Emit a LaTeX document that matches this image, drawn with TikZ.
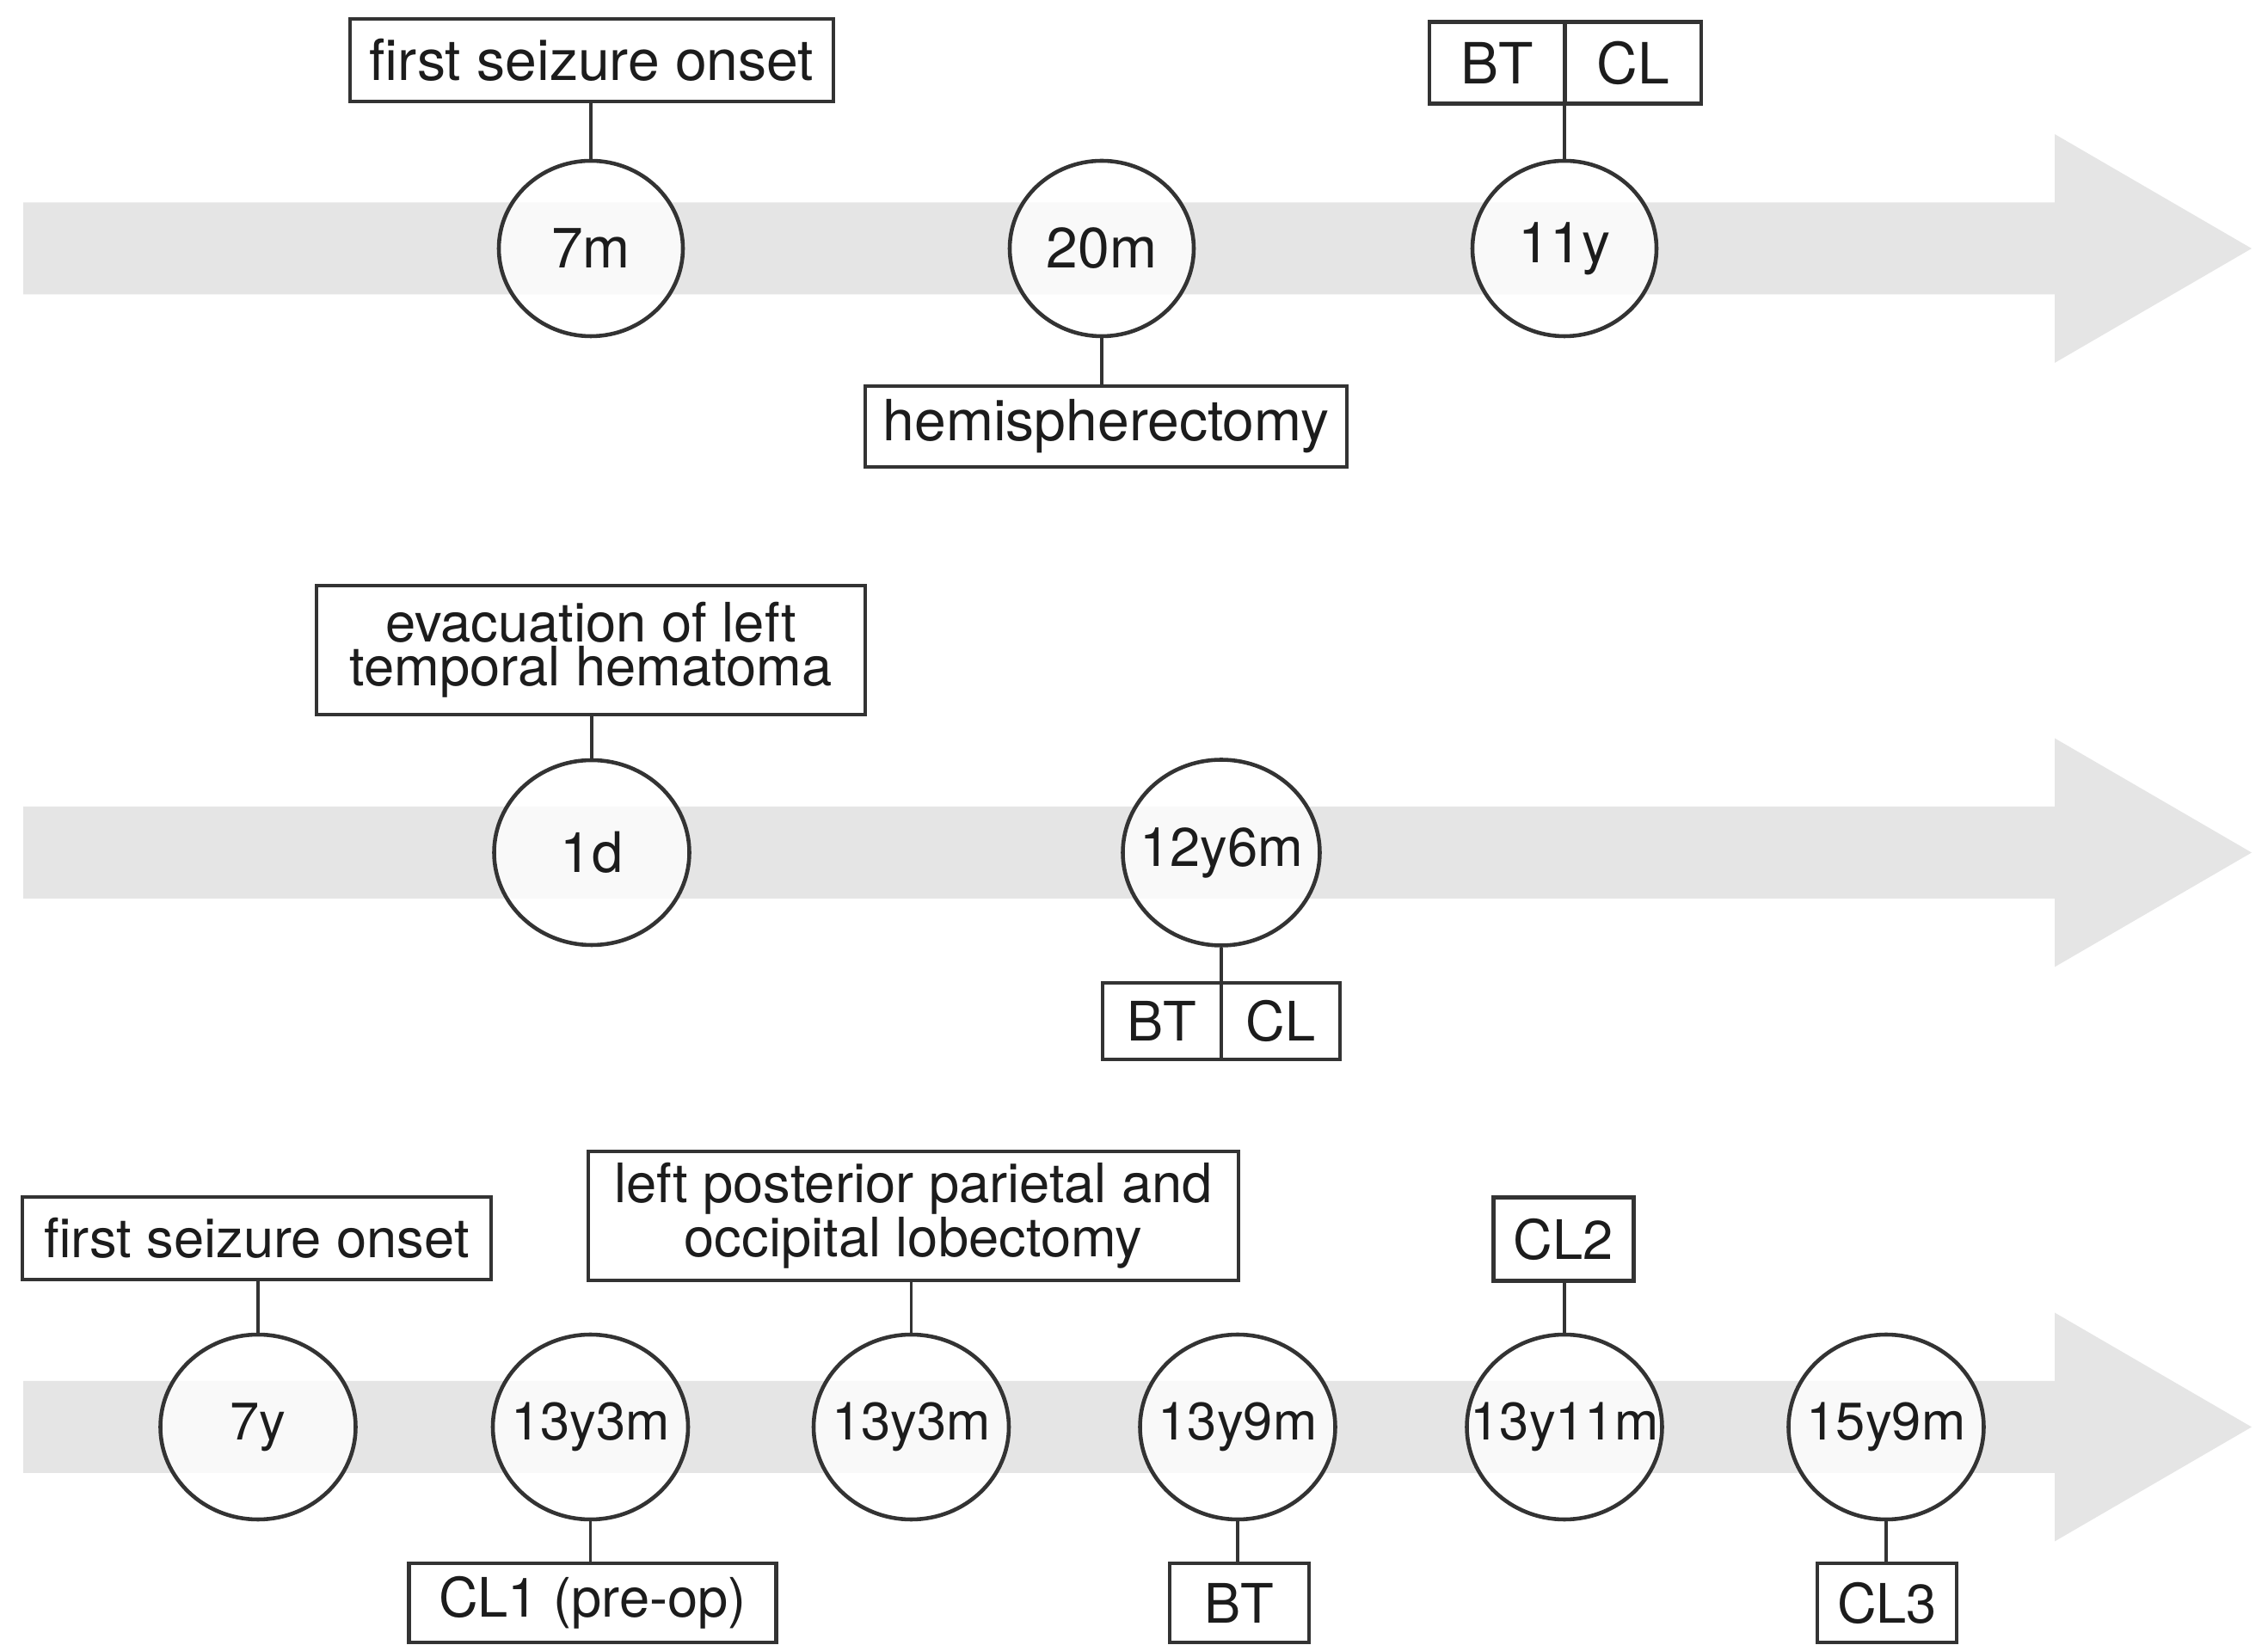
\documentclass[tikz,border=0pt]{standalone}
\usepackage{fontspec}
\setmainfont{TeX Gyre Heros}
\usepackage{tikz}
\usetikzlibrary{positioning,shapes.geometric}

\definecolor{bandgray}{HTML}{E5E5E5}
\definecolor{linegray}{HTML}{333333}
\definecolor{inkgray}{HTML}{1C1C1C}

\begin{document}
\begin{tikzpicture}[
    every node/.style={text=inkgray, align=center},
    box/.style={rectangle, draw=linegray, line width=1.3pt, fill=white, inner sep=0pt, font=\fontsize{18}{14.5}\selectfont},
    evt/.style={ellipse, draw=linegray, line width=1.3pt, fill=white, fill opacity=0.8, text opacity=1, inner sep=0pt, minimum width=2.27cm, minimum height=2.15cm, font=\fontsize{17.5}{20}\selectfont},
    evtsmall/.style={evt, minimum width=2.14cm, minimum height=2.04cm, font=\fontsize{18.8}{20}\selectfont},
    link/.style={draw=linegray, line width=0.9pt},
    band/.style={fill=bandgray}
]
\useasboundingbox (0,0) rectangle (26.37,19.13);

% timelines
\fill[band] (0.27,15.705) -- (23.89,15.705) -- (23.89,14.91) -- (26.18,16.24) -- (23.89,17.57) -- (23.89,16.775) -- (0.27,16.775) -- cycle;
\fill[band] (0.27,8.68) -- (23.89,8.68) -- (23.89,7.885) -- (26.18,9.215) -- (23.89,10.545) -- (23.89,9.75) -- (0.27,9.75) -- cycle;
\fill[band] (0.27,2.0) -- (23.89,2.0) -- (23.89,1.205) -- (26.18,2.535) -- (23.89,3.865) -- (23.89,3.07) -- (0.27,3.07) -- cycle;

% first case
\node[evtsmall] (m7) at (6.87,16.24) {\makebox[0pt]{7m}};
\node[evtsmall] (m20) at (12.81,16.24) {\makebox[0pt]{20m}};
\node[evtsmall] (y11) at (18.19,16.24) {\makebox[0pt]{11y}};
\node[box, minimum width=5.62cm, minimum height=0.96cm, font=\fontsize{18.8}{16}\selectfont] (onsetA) at (6.88,18.43) {first seizure onset};
\node[box, minimum width=5.60cm, minimum height=0.94cm, font=\fontsize{18.8}{16}\selectfont] (hemi) at (12.86,14.17) {hemispherectomy};
\node[box, minimum width=1.58cm, minimum height=0.95cm, font=\fontsize{18.8}{16}\selectfont] (btA) at (17.41,18.40) {BT};
\node[box, minimum width=1.58cm, minimum height=0.95cm, font=\fontsize{18.8}{16}\selectfont] (clA) at (18.99,18.40) {CL};
\draw[link] (m7.north) -- (m7.north |- onsetA.south);
\draw[link] (m20.south) -- (m20.south |- hemi.north);
\draw[link] (y11.north) -- (y11.north |- btA.north);

% second case
\node[evt] (d1) at (6.88,9.215) {\makebox[0pt]{\fontsize{18.5}{20}\selectfont 1d}};
\node[evt, minimum width=2.29cm, minimum height=2.16cm, font=\fontsize{18}{20}\selectfont] (y12m6) at (14.20,9.215) {\makebox[0pt]{12y6m}};
\node[box, minimum width=6.38cm, minimum height=1.50cm] (evac) at (6.87,11.57) {evacuation of left\\temporal hematoma};
\node[box, minimum width=1.38cm, minimum height=0.89cm] (btB) at (13.51,7.255) {BT};
\node[box, minimum width=1.38cm, minimum height=0.89cm] (clB) at (14.89,7.255) {CL};
\draw[link] (d1.north) -- (d1.north |- evac.south);
\draw[link] (y12m6.south) -- (y12m6.south |- btB.south);

% third case
\node[evt] (y7) at (3.00,2.535) {\makebox[0pt]{7y}};
\node[evt] (y13m3a) at (6.865,2.535) {\makebox[0pt]{13y3m}};
\node[evt] (y13m3b) at (10.595,2.535) {\makebox[0pt]{13y3m}};
\node[evt] (y13m9) at (14.39,2.535) {\makebox[0pt]{13y9m}};
\node[evt] (y13m11) at (18.19,2.535) {\makebox[0pt]{13y11m}};
\node[evt] (y15m9) at (21.93,2.535) {\makebox[0pt]{15y9m}};
\node[box, minimum width=5.45cm, minimum height=0.96cm] (onsetC) at (2.985,4.73) {first seizure onset};
\node[box, minimum width=7.56cm, minimum height=1.50cm] (lobe) at (10.62,4.99) {left posterior parietal and\\occipital lobectomy};
\node[box, minimum width=1.63cm, minimum height=0.97cm] (cltwo) at (18.18,4.72) {CL2};
\node[box, minimum width=4.27cm, minimum height=0.92cm] (clone) at (6.89,0.49) {CL1 (pre-op)};
\node[box, minimum width=1.62cm, minimum height=0.92cm] (btC) at (14.41,0.49) {BT};
\node[box, minimum width=1.62cm, minimum height=0.92cm] (clthree) at (21.94,0.49) {CL3};
\draw[link] (y7.north) -- (y7.north |- onsetC.south);
\draw[link] (y13m3b.north) -- (y13m3b.north |- lobe.south);
\draw[link] (y13m11.north) -- (y13m11.north |- cltwo.south);
\draw[link] (y13m3a.south) -- (y13m3a.south |- clone.north);
\draw[link] (y13m9.south) -- (y13m9.south |- btC.north);
\draw[link] (y15m9.south) -- (y15m9.south |- clthree.north);
\end{tikzpicture}
\end{document}
